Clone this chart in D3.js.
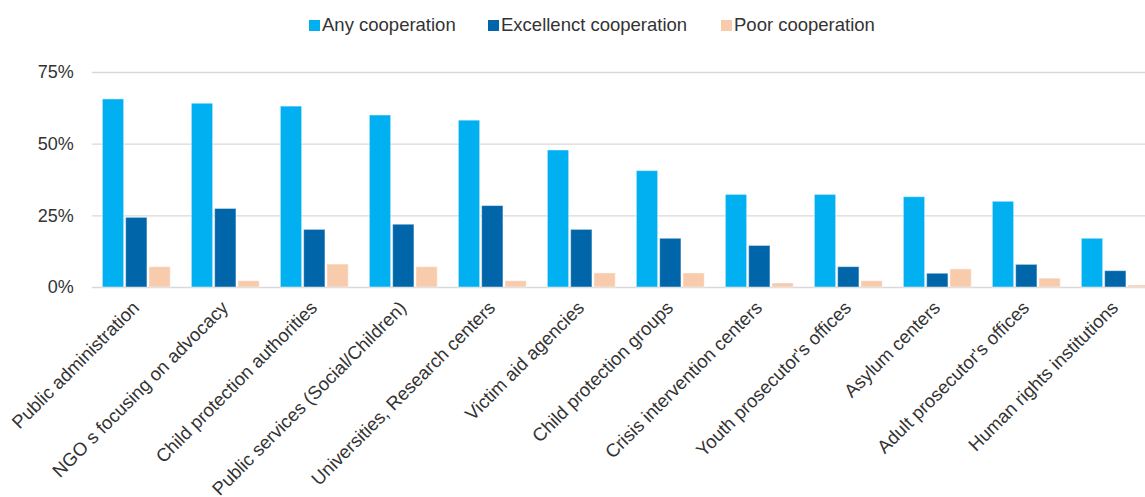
<!DOCTYPE html>
<html>
<head>
<meta charset="utf-8">
<script src="https://cdn.jsdelivr.net/npm/d3@7"></script>
<style>
  html, body { margin: 0; padding: 0; background: #fff; overflow: hidden; }
  svg { display: block; font-family: "Liberation Sans", Arial, sans-serif; }
</style>
</head>
<body>
<svg id="chart" width="1145" height="497"></svg>
<script>
// Share of respondents cooperating with each institution type
const categories = [
  "Public administration",
  "NGO s focusing on advocacy",
  "Child protection authorities",
  "Public services (Social/Children)",
  "Universities, Research centers",
  "Victim aid agencies",
  "Child protection groups",
  "Crisis intervention centers",
  "Youth prosecutor's offices",
  "Asylum centers",
  "Adult prosecutor's offices",
  "Human rights institutions"
];
const seriesNames = ["Any cooperation", "Excellenct cooperation", "Poor cooperation"];
const anyCooperation       = [0.656, 0.641, 0.631, 0.600, 0.582, 0.478, 0.406, 0.323, 0.323, 0.315, 0.299, 0.170];
const excellentCooperation = [0.243, 0.274, 0.201, 0.219, 0.284, 0.201, 0.170, 0.145, 0.071, 0.048, 0.079, 0.057];
const poorCooperation      = [0.071, 0.022, 0.080, 0.071, 0.022, 0.049, 0.049, 0.014, 0.022, 0.063, 0.031, 0.007];
const yTicks = [0, 0.25, 0.5, 0.75];
const colors = ["#00B0F0", "#0065A9", "#F8CBAD"];

const seriesValues = [anyCooperation, excellentCooperation, poorCooperation];
const rows = categories.map((c, i) => ({
  category: c,
  values: seriesNames.map((s, k) => ({ series: s, value: seriesValues[k][i] }))
}));

const svg = d3.select("#chart");
const plotLeft = 91.8, bandStep = 89, plotTop = 72, plotBottom = 287;
const fontSize = "18.5px";

const x0 = d3.scaleBand().domain(categories)
  .range([plotLeft, plotLeft + bandStep * categories.length]).padding(0);
const x1 = d3.scaleBand().domain(seriesNames).range([0, x0.bandwidth()])
  .paddingInner(0.0858).paddingOuter(0.4528);
const y = d3.scaleLinear().domain([0, 0.75]).range([plotBottom, plotTop]);
const color = d3.scaleOrdinal().domain(seriesNames).range(colors);

// gridlines and y labels
const yAxis = svg.append("g")
  .attr("transform", `translate(${plotLeft},0)`)
  .call(d3.axisLeft(y).tickValues(yTicks).tickFormat(d3.format(".0%"))
    .tickSize(-(1145 - plotLeft)).tickPadding(18));
yAxis.select(".domain").remove();
yAxis.selectAll(".tick line").attr("stroke", "#d9d9d9").attr("stroke-width", 1.3);
yAxis.selectAll(".tick text").attr("fill", "#333").style("font-size", "18px")
  .attr("font-family", "Liberation Sans, Arial, sans-serif");

// bars
const groups = svg.append("g").selectAll("g")
  .data(rows).join("g")
  .attr("transform", d => `translate(${x0(d.category)},0)`);
groups.selectAll("rect")
  .data(d => d.values).join("rect")
  .attr("x", d => x1(d.series))
  .attr("width", x1.bandwidth())
  .attr("y", d => y(d.value))
  .attr("height", d => y(0) - y(d.value))
  .attr("fill", d => color(d.series))
  .attr("stroke", "rgba(255,255,255,0.45)")
  .attr("stroke-width", 1);

// category labels
svg.append("g").selectAll("text")
  .data(categories).join("text")
  .attr("transform", d => `translate(${x0(d) + x0.bandwidth() / 2 + 4},309) rotate(-45)`)
  .attr("text-anchor", "end")
  .attr("fill", "#333")
  .style("font-size", fontSize)
  .text(d => d);

// legend
const legendX = [309, 488, 721];
const legend = svg.append("g").selectAll("g")
  .data(seriesNames).join("g")
  .attr("transform", (d, i) => `translate(${legendX[i]},20)`);
legend.append("rect").attr("width", 11).attr("height", 11).attr("fill", d => color(d));
legend.append("text").attr("x", 13).attr("y", 11)
  .attr("fill", "#333").style("font-size", fontSize).text(d => d);
</script>
</body>
</html>
